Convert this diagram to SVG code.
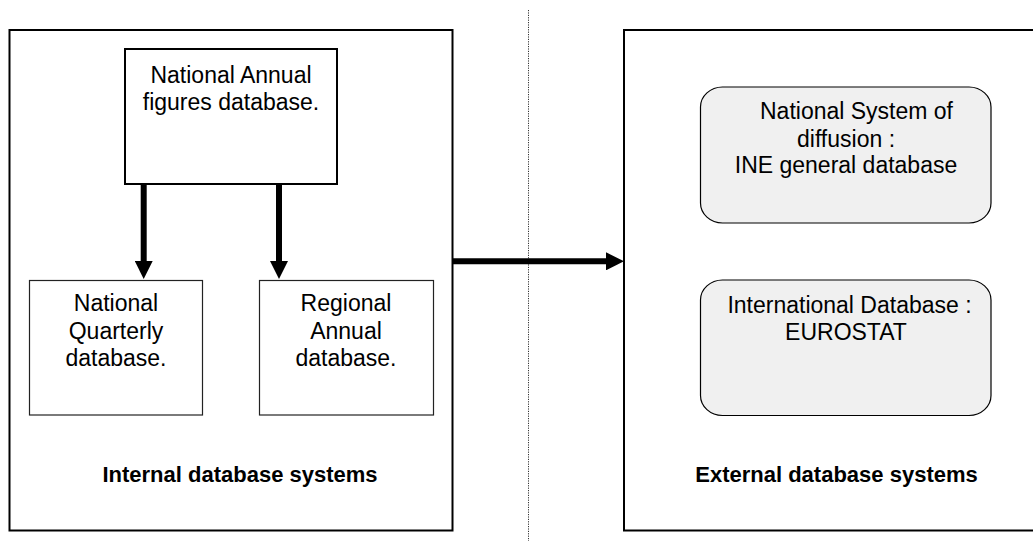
<svg xmlns="http://www.w3.org/2000/svg" width="1033" height="541" viewBox="0 0 1033 541">
  <style>
    .frame { fill: #ffffff; stroke: #000000; stroke-width: 2; }
    .main { fill: #ffffff; stroke: #000000; stroke-width: 2; }
    .sub { fill: #ffffff; stroke: #222222; stroke-width: 1.2; }
    .ext { fill: #f0f0f0; stroke: #000000; stroke-width: 1.2; }
    .lbl { font-family: "Liberation Sans", Arial, sans-serif; font-size: 23px; fill: #000000; text-anchor: middle; }
    .title { font-family: "Liberation Sans", Arial, sans-serif; font-size: 22px; font-weight: bold; fill: #000000; text-anchor: middle; }
    .flow { stroke: #000000; stroke-width: 6; fill: none; marker-end: url(#head); }
    .divider { stroke: #333333; stroke-width: 1; stroke-dasharray: 1.2 1.2; }
  </style>
  <defs>
    <marker id="head" markerUnits="userSpaceOnUse" markerWidth="18" markerHeight="18" refX="0" refY="9" orient="auto" viewBox="0 0 18 18">
      <path d="M0,0 L18,9 L0,18 z" fill="#000000"/>
    </marker>
  </defs>

  <rect width="1033" height="541" fill="#ffffff"/>

  <!-- dotted separator between internal and external systems -->
  <line class="divider" x1="528.5" y1="10" x2="528.5" y2="541"/>

  <!-- internal systems frame -->
  <g id="internal">
    <rect class="frame" x="9.5" y="30" width="443" height="500.5"/>
    <text class="title" x="240" y="482">Internal database systems</text>
  </g>

  <!-- external systems frame -->
  <g id="external">
    <rect class="frame" x="624" y="30" width="420" height="500.5"/>
    <text class="title" x="836.5" y="482">External database systems</text>
  </g>

  <g id="national-annual">
    <rect class="main" x="125" y="49" width="212" height="135"/>
    <text class="lbl" x="231" y="82.5">National Annual</text>
    <text class="lbl" x="231" y="109.5">figures database.</text>
  </g>

  <g id="national-quarterly">
    <rect class="sub" x="29.5" y="280.5" width="173" height="134.5"/>
    <text class="lbl" x="116" y="311">National</text>
    <text class="lbl" x="116" y="339">Quarterly</text>
    <text class="lbl" x="116" y="366">database.</text>
  </g>

  <g id="regional-annual">
    <rect class="sub" x="259.5" y="280.5" width="174" height="134.5"/>
    <text class="lbl" x="346" y="311">Regional</text>
    <text class="lbl" x="346" y="339">Annual</text>
    <text class="lbl" x="346" y="366">database.</text>
  </g>

  <g id="ine-general">
    <rect class="ext" x="700.5" y="87" width="290.5" height="136" rx="22" ry="20"/>
    <text class="lbl" x="856.5" y="119">National System of</text>
    <text class="lbl" x="846" y="146.5">diffusion :</text>
    <text class="lbl" x="846" y="172.5">INE general database</text>
  </g>

  <g id="eurostat">
    <rect class="ext" x="700.5" y="280" width="290.5" height="135.5" rx="22" ry="20"/>
    <text class="lbl" x="849.5" y="312.5">International Database :</text>
    <text class="lbl" x="846" y="340">EUROSTAT</text>
  </g>

  <g id="connectors">
    <line class="flow" x1="143.7" y1="185" x2="143.7" y2="261"/>
    <line class="flow" x1="279" y1="185" x2="279" y2="261"/>
    <line class="flow" x1="452" y1="261.3" x2="606" y2="261.3"/>
  </g>
</svg>
